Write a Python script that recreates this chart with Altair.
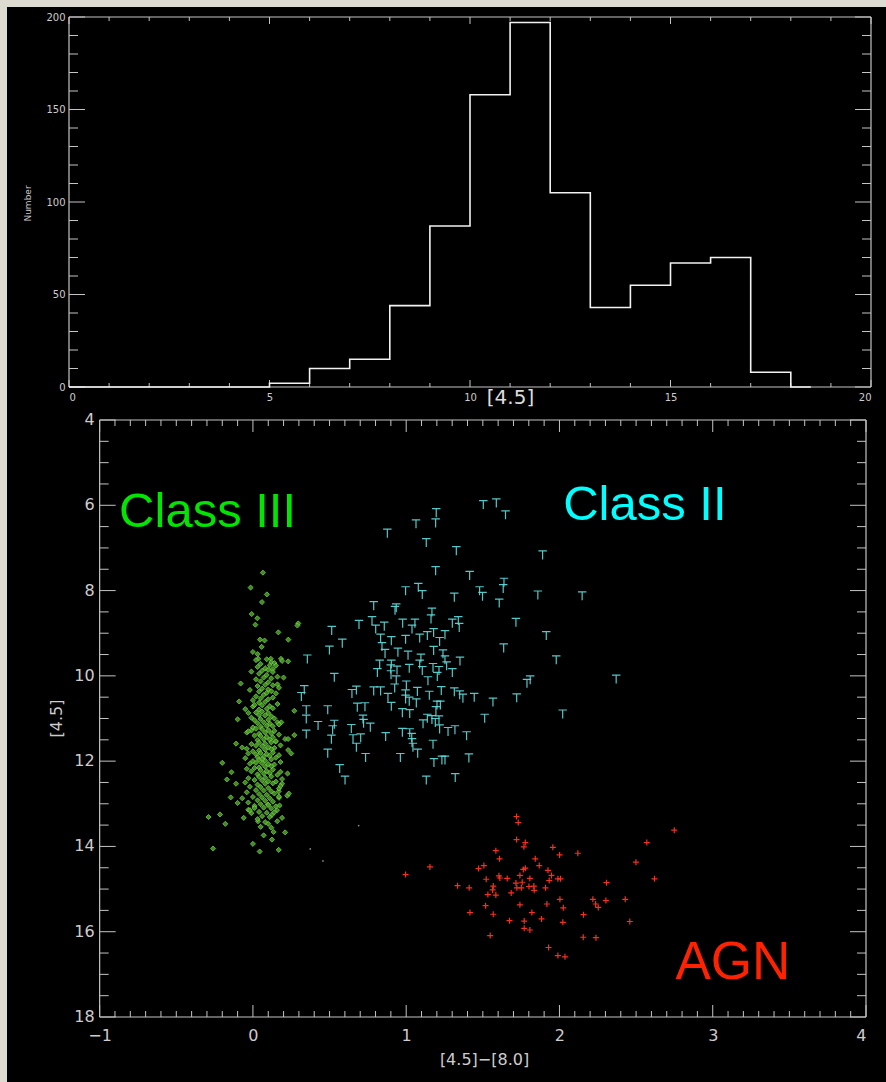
import altair as alt
import pandas as pd

# ---------------------------------------------------------------------------
# Histogram of [4.5] magnitudes (left bin edges, last point closes the step)
# ---------------------------------------------------------------------------
hist_edges = [0, 1, 2, 3, 4, 5, 6, 7, 8, 9, 10, 11, 12, 13, 14, 15, 16, 17, 18, 18.5]
hist_counts = [0, 0, 0, 0, 0, 2, 10, 15, 44, 87, 158, 197, 105, 43, 55, 67, 70, 8, 0, 0]

hist_x_labels = [0, 5, 10, 15, 20]
hist_y_labels = [0, 50, 100, 150, 200]
hist_x_minor = [v for v in range(0, 21) if v % 5]
hist_y_minor = [v for v in range(0, 201, 10) if v % 50]

# ---------------------------------------------------------------------------
# Colour-magnitude diagram: ([4.5]-[8.0], [4.5]) per source
# ---------------------------------------------------------------------------
class3_pts = [
    # sparse upper part and outskirts
    (0.065, 7.58), (-0.015, 7.93), (0.091, 8.09), (0.059, 8.27), (-0.008, 8.55),
    (0.029, 8.65), (0.016, 8.80), (0.296, 8.77), (0.290, 8.82), (0.166, 8.98),
    (0.231, 9.15), (0.046, 9.15), (0.076, 9.17), (0.057, 9.32), (0.000, 9.44),
    (0.031, 9.49), (0.035, 9.60), (0.117, 9.60), (0.183, 9.60), (0.190, 9.65),
    (0.230, 9.66), (0.130, 9.84), (0.200, 10.04), (0.160, 10.20), (-0.080, 10.18),
    (-0.090, 10.60), (-0.050, 10.78), (0.000, 10.72), (-0.100, 11.02), (-0.030, 10.87),
    (0.270, 10.82), (0.185, 11.09), (0.160, 11.09), (-0.040, 11.33), (-0.110, 11.59),
    (-0.070, 11.68), (-0.010, 11.28), (0.210, 11.48), (0.230, 11.48), (0.270, 11.39),
    (0.148, 11.54), (0.230, 11.74), (0.250, 11.82), (-0.200, 12.04), (-0.140, 12.26),
    (-0.170, 12.43), (-0.110, 12.53), (-0.145, 12.85), (-0.070, 12.87), (-0.100, 12.98),
    (-0.290, 13.31), (-0.215, 13.25), (-0.180, 13.47), (-0.060, 13.33), (-0.030, 13.14),
    (-0.010, 13.22), (0.033, 13.41), (0.124, 13.26), (0.159, 13.41), (0.190, 13.33),
    (0.135, 13.66), (0.210, 13.67), (0.124, 13.84), (0.000, 13.94), (0.044, 14.12),
    (0.168, 14.08), (-0.260, 14.05), (0.226, 12.29), (0.190, 12.53), (0.168, 12.71),
    (0.170, 12.86), (0.224, 12.81), (0.234, 12.76), (0.174, 13.04), (0.157, 13.15),
    (0.098, 13.02), (0.010, 13.05),
    # dense core
    (0.02, 9.63), (0.09, 9.61), (0.12, 9.68), (0.05, 9.72), (0.11, 9.75), (0.14, 9.70),
    (0.03, 9.79), (0.08, 9.82), (0.06, 9.88), (0.10, 9.86), (0.13, 9.91), (0.04, 9.95),
    (0.09, 9.98), (0.07, 10.04), (0.12, 10.06), (0.02, 10.08), (0.05, 10.13), (0.10, 10.15),
    (0.08, 10.21), (0.03, 10.24), (0.13, 10.22), (0.06, 10.30), (0.10, 10.32), (0.04, 10.37),
    (0.09, 10.40), (0.12, 10.36), (0.07, 10.45), (0.02, 10.48), (0.05, 10.53), (0.10, 10.55),
    (0.13, 10.51), (0.08, 10.61), (0.04, 10.63), (0.06, 10.69), (0.11, 10.71), (0.01, 10.68),
    (0.09, 10.77), (0.04, 10.79), (0.13, 10.76),
    (0.06, 10.84), (0.10, 10.87), (0.02, 10.86), (0.08, 10.93), (0.12, 10.95), (0.04, 10.92),
    (0.05, 11.01), (0.10, 11.03), (0.14, 11.00), (0.01, 11.04), (0.07, 11.09), (0.03, 11.11),
    (0.11, 11.12), (0.09, 11.17), (0.05, 11.19), (0.13, 11.18), (0.00, 11.21), (0.06, 11.25),
    (0.10, 11.27), (0.02, 11.24), (0.14, 11.29), (0.08, 11.33), (0.04, 11.36), (0.12, 11.35),
    (0.05, 11.41), (0.09, 11.43), (0.01, 11.40), (0.13, 11.44), (0.07, 11.49), (0.03, 11.51),
    (0.11, 11.50), (0.15, 11.53), (0.04, 11.57), (0.08, 11.59), (0.12, 11.56), (-0.01, 11.60),
    (0.06, 11.65), (0.10, 11.67), (0.02, 11.64), (0.14, 11.69), (0.08, 11.73), (0.04, 11.75),
    (0.12, 11.72), (0.00, 11.77), (0.05, 11.81), (0.09, 11.83), (0.13, 11.80), (0.02, 11.84),
    (-0.03, 11.82), (0.07, 11.89), (0.03, 11.91), (0.11, 11.88), (0.15, 11.92), (0.04, 11.97),
    (0.08, 11.99), (0.12, 11.96), (0.00, 12.00), (0.06, 11.95), (0.06, 12.05), (0.10, 12.07),
    (0.02, 12.04), (0.14, 12.08), (-0.02, 12.06), (0.08, 12.13), (0.04, 12.15), (0.12, 12.12),
    (0.01, 12.16), (0.05, 12.21), (0.09, 12.23), (0.13, 12.20), (-0.01, 12.24), (0.07, 12.29),
    (0.03, 12.31), (0.11, 12.28), (0.16, 12.32),
    (0.04, 12.37), (0.08, 12.39), (0.12, 12.36), (-0.03, 12.40), (0.06, 12.45), (0.10, 12.47),
    (0.01, 12.44), (0.15, 12.48), (0.08, 12.53), (0.03, 12.55), (0.13, 12.52), (0.05, 12.61),
    (0.10, 12.63), (-0.02, 12.60), (0.17, 12.64), (0.07, 12.69), (0.12, 12.71), (0.02, 12.68),
    (0.04, 12.77), (0.09, 12.79), (0.14, 12.76), (0.06, 12.85), (0.11, 12.87), (0.00, 12.84),
    (0.08, 12.93), (0.13, 12.95), (0.03, 12.92),
    (0.05, 13.01), (0.10, 13.03), (0.07, 13.09), (0.12, 13.11), (0.01, 13.10), (0.04, 13.19),
    (0.09, 13.21), (0.06, 13.29), (0.11, 13.31), (0.08, 13.43), (0.05, 13.54), (0.12, 13.56),
    (0.07, 13.74),
    # edges of the core
    (0.16, 10.02), (0.15, 10.41), (-0.02, 10.33), (0.16, 10.66), (-0.01, 10.98), (0.17, 11.14),
    (-0.03, 11.30), (0.17, 11.38), (-0.04, 11.71), (0.18, 11.63), (0.17, 11.86), (-0.05, 11.93),
    (0.18, 12.02), (-0.04, 12.18), (0.18, 12.25), (0.19, 12.42), (-0.05, 12.50), (0.18, 12.58),
    (-0.04, 12.73), (0.17, 12.83), (-0.03, 12.97), (0.15, 13.06), (-0.02, 13.15), (0.14, 13.20),
    (0.03, 13.36), (0.10, 13.47), (0.15, 9.76), (-0.01, 9.90), (0.17, 10.28), (0.00, 10.57),
]

class2_pts = [
    (1.503, 5.99), (1.588, 5.95), (1.648, 6.23), (1.196, 6.18), (1.064, 6.44), (1.192, 6.42),
    (0.877, 6.66), (1.131, 6.88), (1.327, 7.07), (1.890, 7.17), (1.192, 7.54), (1.414, 7.65),
    (1.638, 7.81), (1.633, 7.96), (0.996, 8.01), (1.079, 7.93), (1.105, 8.10), (1.314, 8.16),
    (1.479, 8.01), (1.498, 8.14), (1.859, 8.11), (2.148, 8.13), (1.607, 8.30), (0.788, 8.36),
    (0.935, 8.41), (0.927, 8.47), (1.168, 8.51), (1.162, 8.67), (0.777, 8.71), (0.692, 8.80),
    (0.857, 8.84), (0.977, 8.77), (1.057, 8.77), (1.038, 8.91), (1.301, 8.77), (1.340, 8.71),
    (1.346, 8.87), (1.716, 8.75), (0.514, 8.94), (0.801, 8.91), (0.833, 9.12), (0.903, 9.18),
    (0.996, 9.15), (1.088, 9.12), (1.138, 9.06), (1.179, 8.99), (1.253, 9.04), (1.218, 9.20),
    (1.914, 9.06), (0.583, 9.24), (0.842, 9.32), (0.862, 9.48), (0.946, 9.45), (1.012, 9.52),
    (1.179, 9.41), (1.636, 9.35), (0.499, 9.40), (1.240, 9.49), (0.355, 9.61), (1.096, 9.59),
    (1.088, 9.73), (1.253, 9.63), (1.264, 9.77), (1.351, 9.66), (1.979, 9.63), (0.827, 9.73),
    (0.903, 9.73), (0.899, 9.84), (0.940, 9.87), (1.020, 9.83), (1.105, 9.88), (1.175, 9.81),
    (1.214, 9.88), (1.301, 9.93), (0.812, 9.93), (0.901, 9.98), (0.531, 10.04), (1.142, 10.12),
    (1.203, 10.02), (0.935, 10.10), (2.370, 10.08), (1.809, 10.10), (1.788, 10.18), (0.335, 10.33),
    (0.316, 10.49), (0.675, 10.34), (0.646, 10.42), (0.788, 10.36), (0.833, 10.36), (0.925, 10.29),
    (1.001, 10.22), (1.073, 10.37), (1.229, 10.35), (1.314, 10.38), (1.349, 10.45), (1.370, 10.53),
    (1.444, 10.51), (1.566, 10.62), (1.721, 10.52), (0.881, 10.51), (0.996, 10.43), (0.996, 10.55),
    (1.020, 10.60), (1.066, 10.64), (1.151, 10.46), (1.201, 10.69), (1.223, 10.69), (1.194, 10.82),
    (0.348, 10.80), (0.488, 10.80), (0.681, 10.74), (0.731, 10.73), (0.903, 10.72), (0.975, 10.87),
    (1.023, 10.89), (0.348, 11.02), (0.425, 11.17), (0.531, 11.14), (0.520, 11.27), (0.718, 11.02),
    (0.722, 11.12), (0.766, 11.21), (0.642, 11.24), (1.138, 11.00), (1.168, 11.03), (1.214, 11.04),
    (1.190, 11.10), (1.110, 11.13), (1.512, 11.00), (2.021, 10.90), (0.348, 11.37), (0.512, 11.49),
    (0.653, 11.48), (0.703, 11.46), (0.866, 11.43), (0.975, 11.33), (1.023, 11.34), (1.036, 11.45),
    (1.038, 11.57), (1.044, 11.68), (1.218, 11.25), (1.273, 11.31), (1.318, 11.27), (1.394, 11.41),
    (0.675, 11.68), (1.175, 11.61), (0.488, 11.82), (0.735, 11.92), (0.962, 11.92), (1.075, 11.82),
    (1.181, 12.04), (1.233, 11.98), (1.253, 11.98), (1.409, 11.93), (0.566, 12.18), (0.601, 12.45),
    (1.131, 12.45), (1.320, 12.39),
]

agn_pts = [
    (1.720, 13.30), (1.731, 13.44), (1.720, 13.84), (1.777, 13.91), (1.768, 14.01), (1.957, 14.02),
    (2.001, 14.20), (2.120, 14.16), (2.749, 13.62), (2.570, 13.91), (2.499, 14.37), (2.620, 14.76),
    (2.307, 14.85), (1.585, 14.10), (1.609, 14.29), (1.842, 14.29), (1.868, 14.45), (1.507, 14.45),
    (1.472, 14.52), (0.996, 14.66), (1.155, 14.48), (1.335, 14.92), (1.411, 14.97), (1.522, 14.77),
    (1.568, 14.93), (1.564, 15.02), (1.605, 14.69), (1.611, 14.74), (1.659, 14.75), (1.533, 15.13),
    (1.585, 15.14), (1.685, 15.09), (1.716, 14.86), (1.742, 14.68), (1.757, 14.84), (1.764, 14.54),
    (1.777, 14.51), (1.751, 14.97), (1.722, 14.97), (1.807, 14.75), (1.801, 14.94), (1.833, 14.93),
    (1.835, 15.03), (1.909, 14.97), (1.925, 14.56), (1.948, 14.68), (1.933, 14.80), (1.990, 14.76),
    (2.007, 14.76), (2.003, 15.24), (2.025, 15.44), (1.918, 15.35), (1.820, 15.55), (1.883, 15.70),
    (1.742, 15.37), (1.518, 15.39), (1.416, 15.55), (1.568, 15.59), (1.674, 15.74), (1.770, 15.75),
    (1.770, 15.92), (1.807, 15.96), (1.548, 16.09), (2.022, 15.78), (1.929, 16.37), (1.990, 16.56),
    (2.036, 16.59), (2.157, 15.60), (2.218, 15.24), (2.236, 15.35), (2.253, 15.43), (2.303, 15.27),
    (2.429, 15.24), (2.459, 15.76), (2.155, 16.13), (2.238, 16.14),
]

faint_pts = [(0.374, 14.06), (0.457, 14.34), (0.690, 13.51)]

cmd_x_labels = [-1, 0, 1, 2, 3, 4]
cmd_y_labels = [4, 6, 8, 10, 12, 14, 16, 18]
cmd_x_minor = [round(-1 + i / 10, 1) for i in range(51) if i % 10]
cmd_y_minor = [4 + i / 2 for i in range(29) if i % 4]

# ---------------------------------------------------------------------------
FRAME = "#c4c4c4"
LABEL = "#cdcdcd"
FONT = "DejaVu Sans"
PAGE = "#dddbd1"          # light page colour around the black plot sheet
one_row = pd.DataFrame({"k": [0]})

# ---------------------------- histogram panel ------------------------------
sx_h = alt.Scale(domain=[0, 20], nice=False, zero=False)
sy_h = alt.Scale(domain=[0, 200], nice=False, zero=False)
ax_hx = alt.Axis(
    values=hist_x_labels, ticks=False, domain=False, grid=False, zindex=2,
    labelFont=FONT, labelFontSize=10, labelColor=LABEL, labelPadding=5,
    title="[4.5]", titleFont=FONT, titleFontSize=20, titleFontWeight="normal",
    titleColor="#dcdcdc", titleX=441, titleY=10, titleBaseline="middle",
    titleAlign="center")
ax_hy = alt.Axis(
    values=hist_y_labels, ticks=False, domain=False, grid=False, zindex=2,
    labelFont=FONT, labelFontSize=10, labelColor=LABEL, labelPadding=4,
    title="Number", titleFont=FONT, titleFontSize=9, titleFontWeight="normal",
    titleColor=LABEL, titleX=-42, titleY=186, titleBaseline="middle",
    titleAlign="center", titleAngle=270)

# ------------------------ colour-magnitude panel ---------------------------
sx_c = alt.Scale(domain=[-1.2, 4], nice=False, zero=False)
sy_c = alt.Scale(domain=[4, 18], reverse=True, nice=False, zero=False)
ax_cx = alt.Axis(
    values=cmd_x_labels, ticks=False, domain=False, grid=False, zindex=2,
    labelFont=FONT, labelFontSize=16, labelColor=LABEL, labelPadding=10,
    title="[4.5]\u2212[8.0]", titleFont=FONT, titleFontSize=16,
    titleFontWeight="normal", titleColor=LABEL, titleX=415, titleY=42,
    titleBaseline="middle", titleAlign="center")


class Panel:
    """Shared scales and axes for the layers of one panel."""

    def __init__(self, sx, sy, ax, ay):
        self.sx, self.sy, self.ax, self.ay = sx, sy, ax, ay

    def X(self, field):
        return alt.X(field, scale=self.sx, axis=self.ax)

    def Y(self, field):
        return alt.Y(field, scale=self.sy, axis=self.ay)

    def XD(self, v):
        return alt.XDatum(v, scale=self.sx, axis=self.ax)

    def YD(self, v):
        return alt.YDatum(v, scale=self.sy, axis=self.ay)

    def sheet(self, x0, x1, y0, y1, grow):
        """Black backing sheet behind the panel, reaching out past its axes."""
        left, right, top, bottom = grow
        return alt.Chart(one_row).mark_rect(
            color="black", xOffset=-left, x2Offset=right, yOffset=-top, y2Offset=bottom
        ).encode(x=self.XD(x0), x2=alt.X2Datum(x1), y=self.YD(y0), y2=alt.Y2Datum(y1))

    def edge_ticks(self, values, at, length, along="x"):
        """Inward tick marks drawn on one edge of the panel."""
        df = pd.DataFrame({"v": values})
        if along == "x":
            return alt.Chart(df).mark_rule(color=FRAME, strokeWidth=1, y2Offset=length).encode(
                x=self.X("v:Q"), y=self.YD(at), y2=alt.Y2Datum(at))
        return alt.Chart(df).mark_rule(color=FRAME, strokeWidth=1, x2Offset=length).encode(
            y=self.Y("v:Q"), x=self.XD(at), x2=alt.X2Datum(at))

    def frame(self, x0, x1, y0, y1):
        base = alt.Chart(one_row).mark_rule(color=FRAME, strokeWidth=1.2)
        out = [base.encode(x=self.XD(xv), y=self.YD(y0), y2=alt.Y2Datum(y1)) for xv in (x0, x1)]
        out += [base.encode(y=self.YD(yv), x=self.XD(x0), x2=alt.X2Datum(x1)) for yv in (y0, y1)]
        return out


H = Panel(sx_h, sy_h, ax_hx, ax_hy)
C = Panel(sx_c, sy_c, ax_cx, None)

hist_df = pd.DataFrame({"mag": hist_edges, "n": hist_counts})
hist_line = alt.Chart(hist_df).mark_line(
    interpolate="step-after", color="#f2f2f2", strokeWidth=1.6
).encode(x=H.X("mag:Q"), y=H.Y("n:Q"))

hist_panel = alt.layer(
    H.sheet(0, 20, 200, 0, grow=(62, 15, 10, 23)),
    *H.frame(0, 20, 0, 200),
    H.edge_ticks(hist_x_labels, 0, -7),
    H.edge_ticks(hist_x_minor, 0, -4),
    H.edge_ticks(hist_x_labels, 200, 7),
    H.edge_ticks(hist_x_minor, 200, 4),
    H.edge_ticks(hist_y_labels, 0, 16, along="y"),
    H.edge_ticks(hist_y_minor, 0, 9, along="y"),
    H.edge_ticks(hist_y_labels, 20, -16, along="y"),
    H.edge_ticks(hist_y_minor, 20, -9, along="y"),
    hist_line,
).properties(width=802, height=370)


def points(pts, mark):
    df = pd.DataFrame(pts, columns=["col", "mag"])
    return alt.Chart(df).mark_point(**mark).encode(x=C.X("col:Q"), y=C.Y("mag:Q"))


class3_layer = points(class3_pts, dict(
    shape="diamond", filled=True, fill="#469a28", stroke="#80e04c",
    strokeWidth=0.8, size=26, opacity=0.9))
class2_layer = points(class2_pts, dict(
    shape="M-1,-1L1,-1M0,-1L0,1", filled=False, color="#5fdede",
    strokeWidth=1.2, size=72, opacity=0.9))
agn_layer = points(agn_pts, dict(
    shape="M-1,0L1,0M0,-1L0,1", filled=False, color="#ff3422",
    strokeWidth=1.2, size=36, opacity=0.95))
faint_layer = points(faint_pts, dict(
    shape="circle", filled=True, color="#8a8a8a", size=3, opacity=1))

y_labels = alt.Chart(pd.DataFrame({"m": cmd_y_labels})).mark_text(
    align="right", baseline="middle", xOffset=-5, font=FONT, fontSize=16, color=LABEL
).encode(x=C.XD(-1), y=C.Y("m:Q"), text="m:Q")

y_title = alt.Chart(one_row).mark_text(
    text="[4.5]", angle=270, align="center", baseline="middle", xOffset=-43,
    font=FONT, fontSize=16, color=LABEL
).encode(x=C.XD(-1), y=C.YD(11))


def label(text, x, y, color, size):
    return alt.Chart(one_row).mark_text(
        text=text, align="left", baseline="alphabetic", font="Liberation Sans",
        fontSize=size, color=color
    ).encode(x=C.XD(x), y=C.YD(y))


cmd_panel = alt.layer(
    C.sheet(-1.2, 4, 4, 18, grow=(62, 20, 10, 65)),
    *C.frame(-1, 4, 4, 18),
    C.edge_ticks(cmd_x_labels, 18, -12),
    C.edge_ticks(cmd_x_minor, 18, -6),
    C.edge_ticks(cmd_x_labels, 4, 12),
    C.edge_ticks(cmd_x_minor, 4, 6),
    C.edge_ticks(cmd_y_labels, -1, 16, along="y"),
    C.edge_ticks(cmd_y_minor, -1, 9, along="y"),
    C.edge_ticks(cmd_y_labels, 4, -16, along="y"),
    C.edge_ticks(cmd_y_minor, 4, -9, along="y"),
    class3_layer,
    faint_layer,
    class2_layer,
    agn_layer,
    y_labels,
    y_title,
    label("Class III", -0.873, 6.51, "#00e600", 49),
    label("Class II", 2.024, 6.35, "#00ffff", 49),
    label("AGN", 2.757, 17.12, "#ff2200", 53),
).properties(width=797, height=597)

chart = alt.vconcat(hist_panel, cmd_panel, spacing=0).properties(
    background=PAGE,
    padding={"left": 7, "top": 7, "right": 0, "bottom": 0},
).configure_view(strokeWidth=0)

chart.save("out.html", embed_options={"renderer": "svg", "actions": False})
